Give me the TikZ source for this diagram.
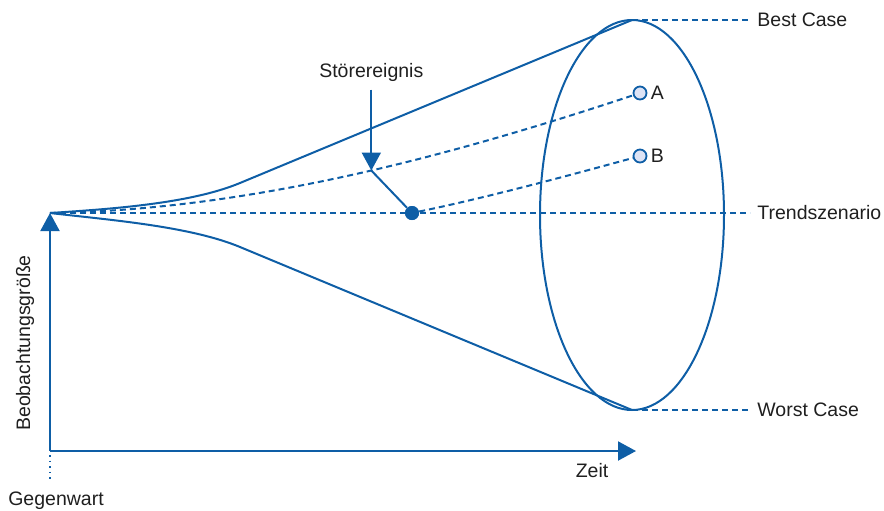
\documentclass[tikz,border=0pt]{standalone}
\usepackage{fontspec}
\setmainfont{Liberation Sans}
\usetikzlibrary{arrows.meta,positioning,calc}
\definecolor{trendblue}{RGB}{14,94,166}
\definecolor{pointfill}{RGB}{221,227,245}

\begin{document}
\begin{tikzpicture}[
        x=0.5pt, y=-0.5pt,
        conline/.style={draw=trendblue, line width=1pt},
        dashline/.style={conline, dash pattern=on 3pt off 2pt},
        arrowline/.style={conline, -{Triangle[length=9pt, width=9.5pt]}},
        txt/.style={font=\fontsize{9.75}{11.7}\selectfont, text=black!88, inner sep=0pt},
        pointnode/.style={circle, draw=trendblue, fill=pointfill, line width=0.9pt, minimum size=6.5pt, inner sep=0pt},
        eventnode/.style={circle, fill=trendblue, minimum size=7pt, inner sep=0pt}
    ]
    \useasboundingbox (0,0) rectangle (884,510);
    % axes
    \coordinate (origin) at (50,213);
    \coordinate (corner) at (50,451);
    \coordinate (timeend) at (636,451);
    \coordinate (nowtop) at (50,455);
    \coordinate (nowend) at (50,481);
    \draw[arrowline] (corner) -- (origin);
    \draw[arrowline] (corner) -- (timeend);
    \draw[trendblue, line width=0.8pt, dotted] (nowtop) -- (nowend);
    \node[txt, anchor=base] (zeit) at (592,477) {Zeit};
    \node[txt, anchor=base] (now) at (56,505) {Gegenwart};
    \node[txt, rotate=90] (ylabel) at (25,343) {Beobachtungsgröße};
    % funnel
    \coordinate (best) at (632,20);
    \coordinate (worst) at (632,410);
    \draw[conline] (632,215) ellipse [x radius=92, y radius=195];
    \draw[conline] (origin) .. controls (110,209) and (190,203.8) .. (240,183) -- (best);
    \draw[conline] (origin) .. controls (110,220) and (190,226.2) .. (240,247) -- (worst);
    % scenarios
    \coordinate (bestend) at (750,20);
    \coordinate (worstend) at (750,410);
    \coordinate (trendend) at (750,213);
    \node[pointnode] (A) at (640,93) {};
    \node[pointnode] (B) at (640,156) {};
    \node[eventnode] (event) at (412,213) {};
    \draw[dashline] (best) -- (bestend);
    \draw[dashline] (worst) -- (worstend);
    \draw[dashline] (origin) -- (trendend);
    \draw[dashline] (origin) .. controls (250,210) and (450,156) .. (A) coordinate[pos=0.54] (hit);
    \draw[dashline] (event) .. controls (480,199) and (560,178) .. (B);
    \node[eventnode] at (event) {};
    \node[txt, right=3.5pt of bestend] {Best Case};
    \node[txt, right=3.5pt of worstend] {Worst Case};
    \node[txt, right=3.5pt of trendend] {Trendszenario};
    \node[txt, right=1.5pt of A] {A};
    \node[txt, right=1.5pt of B] {B};
    % disruptive event
    \coordinate (eventsrc) at ($(hit)+(0,-81)$);
    \node[txt, above=4pt of eventsrc] (storer) {Störereignis};
    \draw[arrowline] (eventsrc) -- (hit);
    \draw[conline] (hit) -- (event);
\end{tikzpicture}
\end{document}
